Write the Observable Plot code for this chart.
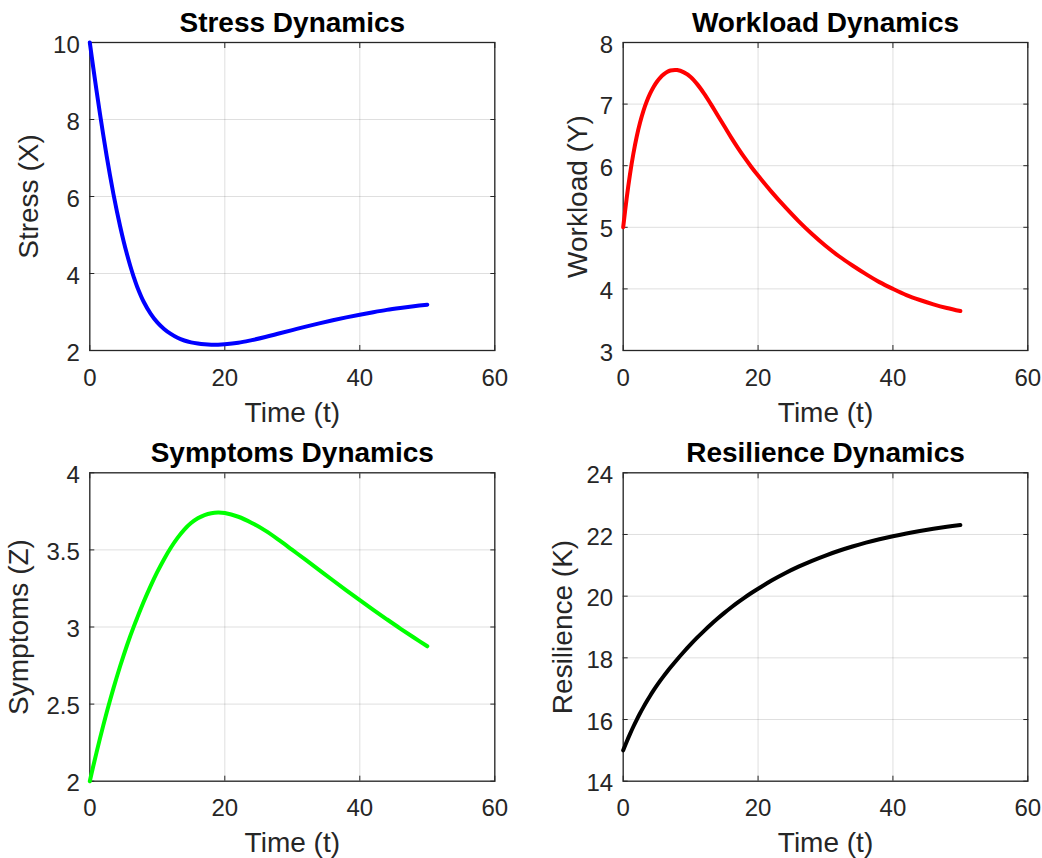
<!DOCTYPE html>
<html>
<head>
<meta charset="utf-8">
<script src="https://cdn.jsdelivr.net/npm/d3@7"></script>
<script src="https://cdn.jsdelivr.net/npm/@observablehq/plot@0.6"></script>
<style>
  html, body { margin: 0; padding: 0; background: #ffffff; }
  #fig { position: relative; width: 1042px; height: 858px; background: #ffffff; overflow: hidden; }
  #fig svg { position: absolute; }
</style>
</head>
<body>
<div id="fig"></div>
<script>
// ---- data ----
const time = [0,0.5,1,1.5,2,2.5,3,3.5,4,4.5,5,5.5,6,6.5,7,8,9,10,11,12,13,14,15,16,17,18,19,20,22,24,26,28,30,32,34,36,38,40,42,44,46,48,50];

const stress = [10,9.36,8.745,8.155,7.59,7.05,6.54,6.065,5.625,5.22,4.845,4.505,4.195,3.915,3.665,3.26,2.96,2.73,2.56,2.43,2.33,2.26,2.21,2.18,2.16,2.15,2.15,2.16,2.2,2.27,2.35,2.44,2.53,2.62,2.705,2.785,2.86,2.93,2.995,3.055,3.105,3.15,3.19];

const workload = [5.0,5.46,5.855,6.19,6.47,6.7,6.89,7.045,7.173,7.278,7.363,7.431,7.483,7.52,7.545,7.552,7.515,7.44,7.32,7.17,7.0,6.82,6.64,6.46,6.29,6.13,5.98,5.84,5.575,5.33,5.1,4.89,4.7,4.53,4.38,4.24,4.11,4.0,3.9,3.82,3.75,3.69,3.64];

const symptoms = [2.0,2.095,2.187,2.276,2.362,2.445,2.525,2.602,2.676,2.747,2.815,2.88,2.942,3.001,3.057,3.165,3.265,3.357,3.44,3.514,3.578,3.632,3.674,3.705,3.726,3.738,3.742,3.739,3.715,3.675,3.625,3.565,3.5,3.435,3.369,3.303,3.238,3.174,3.111,3.05,2.99,2.932,2.875];

const resilience = [15.0,15.27,15.525,15.765,15.99,16.202,16.402,16.592,16.772,16.942,17.104,17.259,17.407,17.549,17.685,17.947,18.197,18.435,18.661,18.876,19.08,19.274,19.458,19.632,19.797,19.953,20.101,20.241,20.506,20.743,20.956,21.147,21.318,21.472,21.61,21.734,21.845,21.945,22.034,22.114,22.186,22.251,22.309];

const xTicks = [0, 20, 40, 60];
const stressTicks = [2, 4, 6, 8, 10];
const workloadTicks = [3, 4, 5, 6, 7, 8];
const symptomsTicks = [2, 2.5, 3, 3.5, 4];
const resilienceTicks = [14, 16, 18, 20, 22, 24];

const titles = ["Stress Dynamics", "Workload Dynamics", "Symptoms Dynamics", "Resilience Dynamics"];
const yLabels = ["Stress (X)", "Workload (Y)", "Symptoms (Z)", "Resilience (K)"];
const xLabel = "Time (t)";

// ---- drawing ----
const FONT = "'Liberation Sans', Arial, Helvetica, sans-serif";
const AX = "#262626";

function panel({values, color, yTicks, title, ylabel, labelDx, left, top, mL, mR, mT, mB}) {
  const data = time.map((t, i) => ({t, v: values[i]}));
  const fmt = d => String(d);
  const blank = () => "";
  const svg = Plot.plot({
    width: 521,
    height: 429,
    marginLeft: mL, marginRight: mR, marginTop: mT, marginBottom: mB,
    style: {fontFamily: FONT, fontSize: "24px", color: AX, background: "transparent", overflow: "visible"},
    x: {domain: [xTicks[0], xTicks[xTicks.length - 1]]},
    y: {domain: [yTicks[0], yTicks[yTicks.length - 1]]},
    marks: [
      Plot.gridX(xTicks, {stroke: AX, strokeOpacity: 0.15, strokeWidth: 1}),
      Plot.gridY(yTicks, {stroke: AX, strokeOpacity: 0.15, strokeWidth: 1}),
      Plot.frame({stroke: AX, strokeWidth: 1.3}),
      // inward ticks on all four sides
      Plot.axisX(xTicks, {anchor: "bottom", tickSize: -5, tickFormat: blank, label: null, color: AX}),
      Plot.axisX(xTicks, {anchor: "top", tickSize: -5, tickFormat: blank, label: null, color: AX}),
      Plot.axisY(yTicks, {anchor: "left", tickSize: -5, tickFormat: blank, label: null, color: AX}),
      Plot.axisY(yTicks, {anchor: "right", tickSize: -5, tickFormat: blank, label: null, color: AX}),
      // tick labels
      Plot.axisX(xTicks, {anchor: "bottom", tickSize: 0, tickPadding: 18, tickFormat: fmt, label: null, color: AX, fontSize: 24}),
      Plot.axisY(yTicks, {anchor: "left", tickSize: 0, tickPadding: 10, dy: 2.5, tickFormat: fmt, label: null, color: AX, fontSize: 24}),
      // data line
      Plot.line(data, {x: "t", y: "v", stroke: color, strokeWidth: 4, curve: "catmull-rom"}),
      // title & axis labels
      Plot.text([title], {text: d => d, frameAnchor: "top", lineAnchor: "bottom", dy: -11, fontSize: 28, fontWeight: "bold", fill: "#000000"}),
      Plot.text([xLabel], {text: d => d, frameAnchor: "bottom", lineAnchor: "bottom", dy: 71, fontSize: 28, fill: AX}),
      Plot.text([ylabel], {text: d => d, frameAnchor: "left", rotate: -90, textAnchor: "middle", lineAnchor: "bottom", dx: labelDx, fontSize: 28, fill: AX})
    ]
  });
  svg.style.left = left + "px";
  svg.style.top = top + "px";
  document.getElementById("fig").appendChild(svg);
}

panel({values: stress, color: "#0000ff", yTicks: stressTicks, title: titles[0], ylabel: yLabels[0], labelDx: -51.5,
       left: 0, top: 0, mL: 89.3, mR: 26.7, mT: 42, mB: 79});
panel({values: workload, color: "#ff0000", yTicks: workloadTicks, title: titles[1], ylabel: yLabels[1], labelDx: -36.7,
       left: 521, top: 0, mL: 101.7, mR: 14.7, mT: 42, mB: 79});
panel({values: symptoms, color: "#00ff00", yTicks: symptomsTicks, title: titles[2], ylabel: yLabels[2], labelDx: -62,
       left: 0, top: 429, mL: 89.3, mR: 26.7, mT: 43.3, mB: 77.3});
panel({values: resilience, color: "#000000", yTicks: resilienceTicks, title: titles[3], ylabel: yLabels[3], labelDx: -51.7,
       left: 521, top: 429, mL: 101.7, mR: 14.7, mT: 43.3, mB: 77.3});
</script>
</body>
</html>
